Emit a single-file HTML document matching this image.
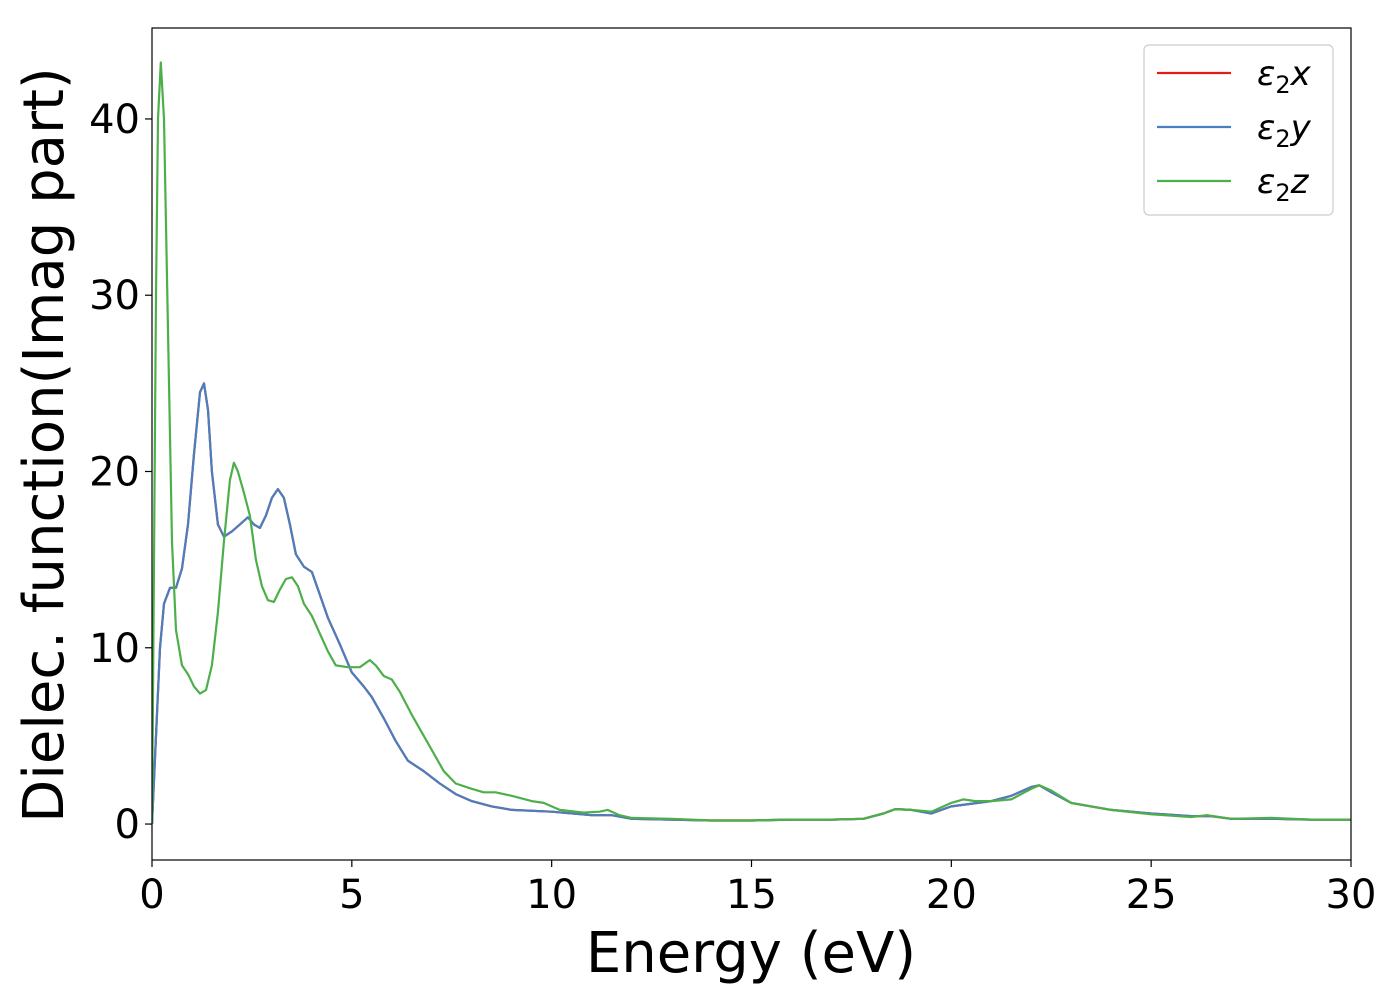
<!DOCTYPE html>
<html><head><meta charset="utf-8"><style>
body{margin:0;background:#fff;}
svg{display:block;font-family:"DejaVu Sans","Liberation Sans",sans-serif;}
</style></head><body>
<svg id="chart" width="1400" height="1000"></svg>
<script>
const energyX=[0,0.1,0.2,0.3,0.45,0.6,0.75,0.9,1.05,1.2,1.3,1.4,1.5,1.65,1.8,2.0,2.2,2.4,2.55,2.7,2.85,3.0,3.15,3.3,3.45,3.6,3.8,4.0,4.2,4.4,4.7,5.0,5.3,5.5,5.8,6.1,6.4,6.8,7.2,7.6,8,8.5,9,10,11,11.5,12,13,14,15,16,17,17.8,18.3,18.6,19,19.5,20,21,21.5,22,22.2,22.5,23,23.5,24,25,26,26.5,27,28,29,30];
const eps2x=[0,5,10,12.5,13.4,13.4,14.5,17,21,24.5,25,23.5,20,17,16.3,16.6,17,17.4,17.0,16.8,17.5,18.5,19,18.5,17,15.3,14.6,14.3,13,11.7,10.2,8.6,7.8,7.2,6,4.7,3.6,3.0,2.3,1.7,1.3,1.0,0.8,0.7,0.5,0.5,0.3,0.25,0.2,0.2,0.25,0.25,0.3,0.6,0.85,0.8,0.6,1.0,1.3,1.6,2.1,2.2,1.8,1.2,1.0,0.8,0.6,0.45,0.45,0.3,0.3,0.25,0.25];
const eps2y=eps2x.slice();
const energyZ=[0,0.05,0.1,0.15,0.22,0.3,0.4,0.5,0.6,0.75,0.9,1.05,1.2,1.35,1.5,1.65,1.8,1.95,2.05,2.15,2.3,2.45,2.6,2.75,2.9,3.05,3.2,3.35,3.5,3.65,3.8,4.0,4.2,4.4,4.6,4.9,5.2,5.45,5.6,5.8,6.0,6.2,6.5,6.8,7.0,7.3,7.6,8,8.3,8.6,9,9.5,9.8,10.2,10.8,11.2,11.4,11.7,12,13,14,15,16,17,17.8,18.3,18.6,19,19.5,20,20.3,20.6,21,21.5,22,22.2,22.5,23,23.5,24,25,26,26.4,27,28,29,30];
const eps2z=[0,15,30,40,43.2,40,28,16,11,9,8.5,7.8,7.4,7.6,9,12,16,19.5,20.5,20,18.8,17.5,15,13.5,12.7,12.6,13.3,13.9,14,13.5,12.5,11.8,10.8,9.8,9.0,8.9,8.9,9.3,9.0,8.4,8.2,7.5,6.2,5.0,4.2,3.0,2.3,2.0,1.8,1.8,1.6,1.3,1.2,0.8,0.65,0.7,0.8,0.5,0.35,0.3,0.2,0.2,0.25,0.25,0.3,0.6,0.85,0.8,0.7,1.2,1.4,1.3,1.3,1.4,2.0,2.2,1.9,1.2,1.0,0.8,0.55,0.4,0.5,0.3,0.35,0.25,0.25];
const xTicks=[0,5,10,15,20,25,30];
const yTicks=[0,10,20,30,40];
const legendLabels=["x","y","z"];

const NS="http://www.w3.org/2000/svg";
const svg=document.getElementById('chart');
const L=152,R=1351,T=28,B=860;
const xMin=0,xMax=30,yMin=-2.04,yMax=45.16;
const sx=v=>L+(v-xMin)/(xMax-xMin)*(R-L);
const sy=v=>B-(v-yMin)/(yMax-yMin)*(B-T);
function mk(tag,attrs,parent){const e=document.createElementNS(NS,tag);for(const k in attrs)e.setAttribute(k,attrs[k]);(parent||svg).appendChild(e);return e;}

const clip=mk('clipPath',{id:'pc'});mk('rect',{x:L,y:T,width:R-L,height:B-T},clip);
function series(xs,ys,color,name){
  const d=xs.map((x,i)=>(i?'L':'M')+sx(x).toFixed(1)+','+sy(ys[i]).toFixed(1)).join(' ');
  const p=mk('path',{d:d,fill:'none',stroke:color,'stroke-width':2.2,'stroke-linejoin':'round','clip-path':'url(#pc)'});
  
  
}
series(energyX,eps2x,'#e41a1c','series-eps2x');
series(energyX,eps2y,'#4a7fbf','series-eps2y');
series(energyZ,eps2z,'#4daf4a','series-eps2z');

const frame=mk('rect',{x:L,y:T,width:R-L,height:B-T,fill:'none',stroke:'#000','stroke-width':1.2});



xTicks.forEach(v=>{
  mk('line',{x1:sx(v),x2:sx(v),y1:B,y2:B+7,stroke:'#000','stroke-width':1.2});
  const t=mk('text',{x:sx(v),y:B+48,'text-anchor':'middle','font-size':40});
  t.textContent=v;
  
  
});
yTicks.forEach(v=>{
  mk('line',{x1:L-7,x2:L,y1:sy(v),y2:sy(v),stroke:'#000','stroke-width':1.2});
  const t=mk('text',{x:L-12,y:sy(v)+14,'text-anchor':'end','font-size':40});
  t.textContent=v;
  
  
});
const xt=mk('text',{x:751,y:972,'text-anchor':'middle','font-size':56});
xt.textContent='Energy (eV)';


const yt=mk('text',{x:0,y:0,'text-anchor':'middle','font-size':56,transform:'translate(63,445) rotate(-90)'});
yt.textContent='Dielec. function(Imag part)';



const lg=mk('g',{});


mk('rect',{x:1144,y:45,width:189,height:170,rx:5,fill:'#fff',stroke:'#ccc','stroke-width':1.2},lg);
const cols=['#e41a1c','#4a7fbf','#4daf4a'];
legendLabels.forEach((lab,i)=>{
  const y=73+i*54;
  const g=mk('g',{},lg);
  
  
  mk('line',{x1:1157,x2:1231,y1:y,y2:y,stroke:cols[i],'stroke-width':2.2},g);
  const t=mk('text',{x:1257,y:y+12,'font-size':34,'font-style':'italic'},g);
  t.innerHTML='ε<tspan font-style="normal" font-size="24" dy="8">2</tspan><tspan dy="-8">'+lab+'</tspan>';
});
</script>
</body></html>
